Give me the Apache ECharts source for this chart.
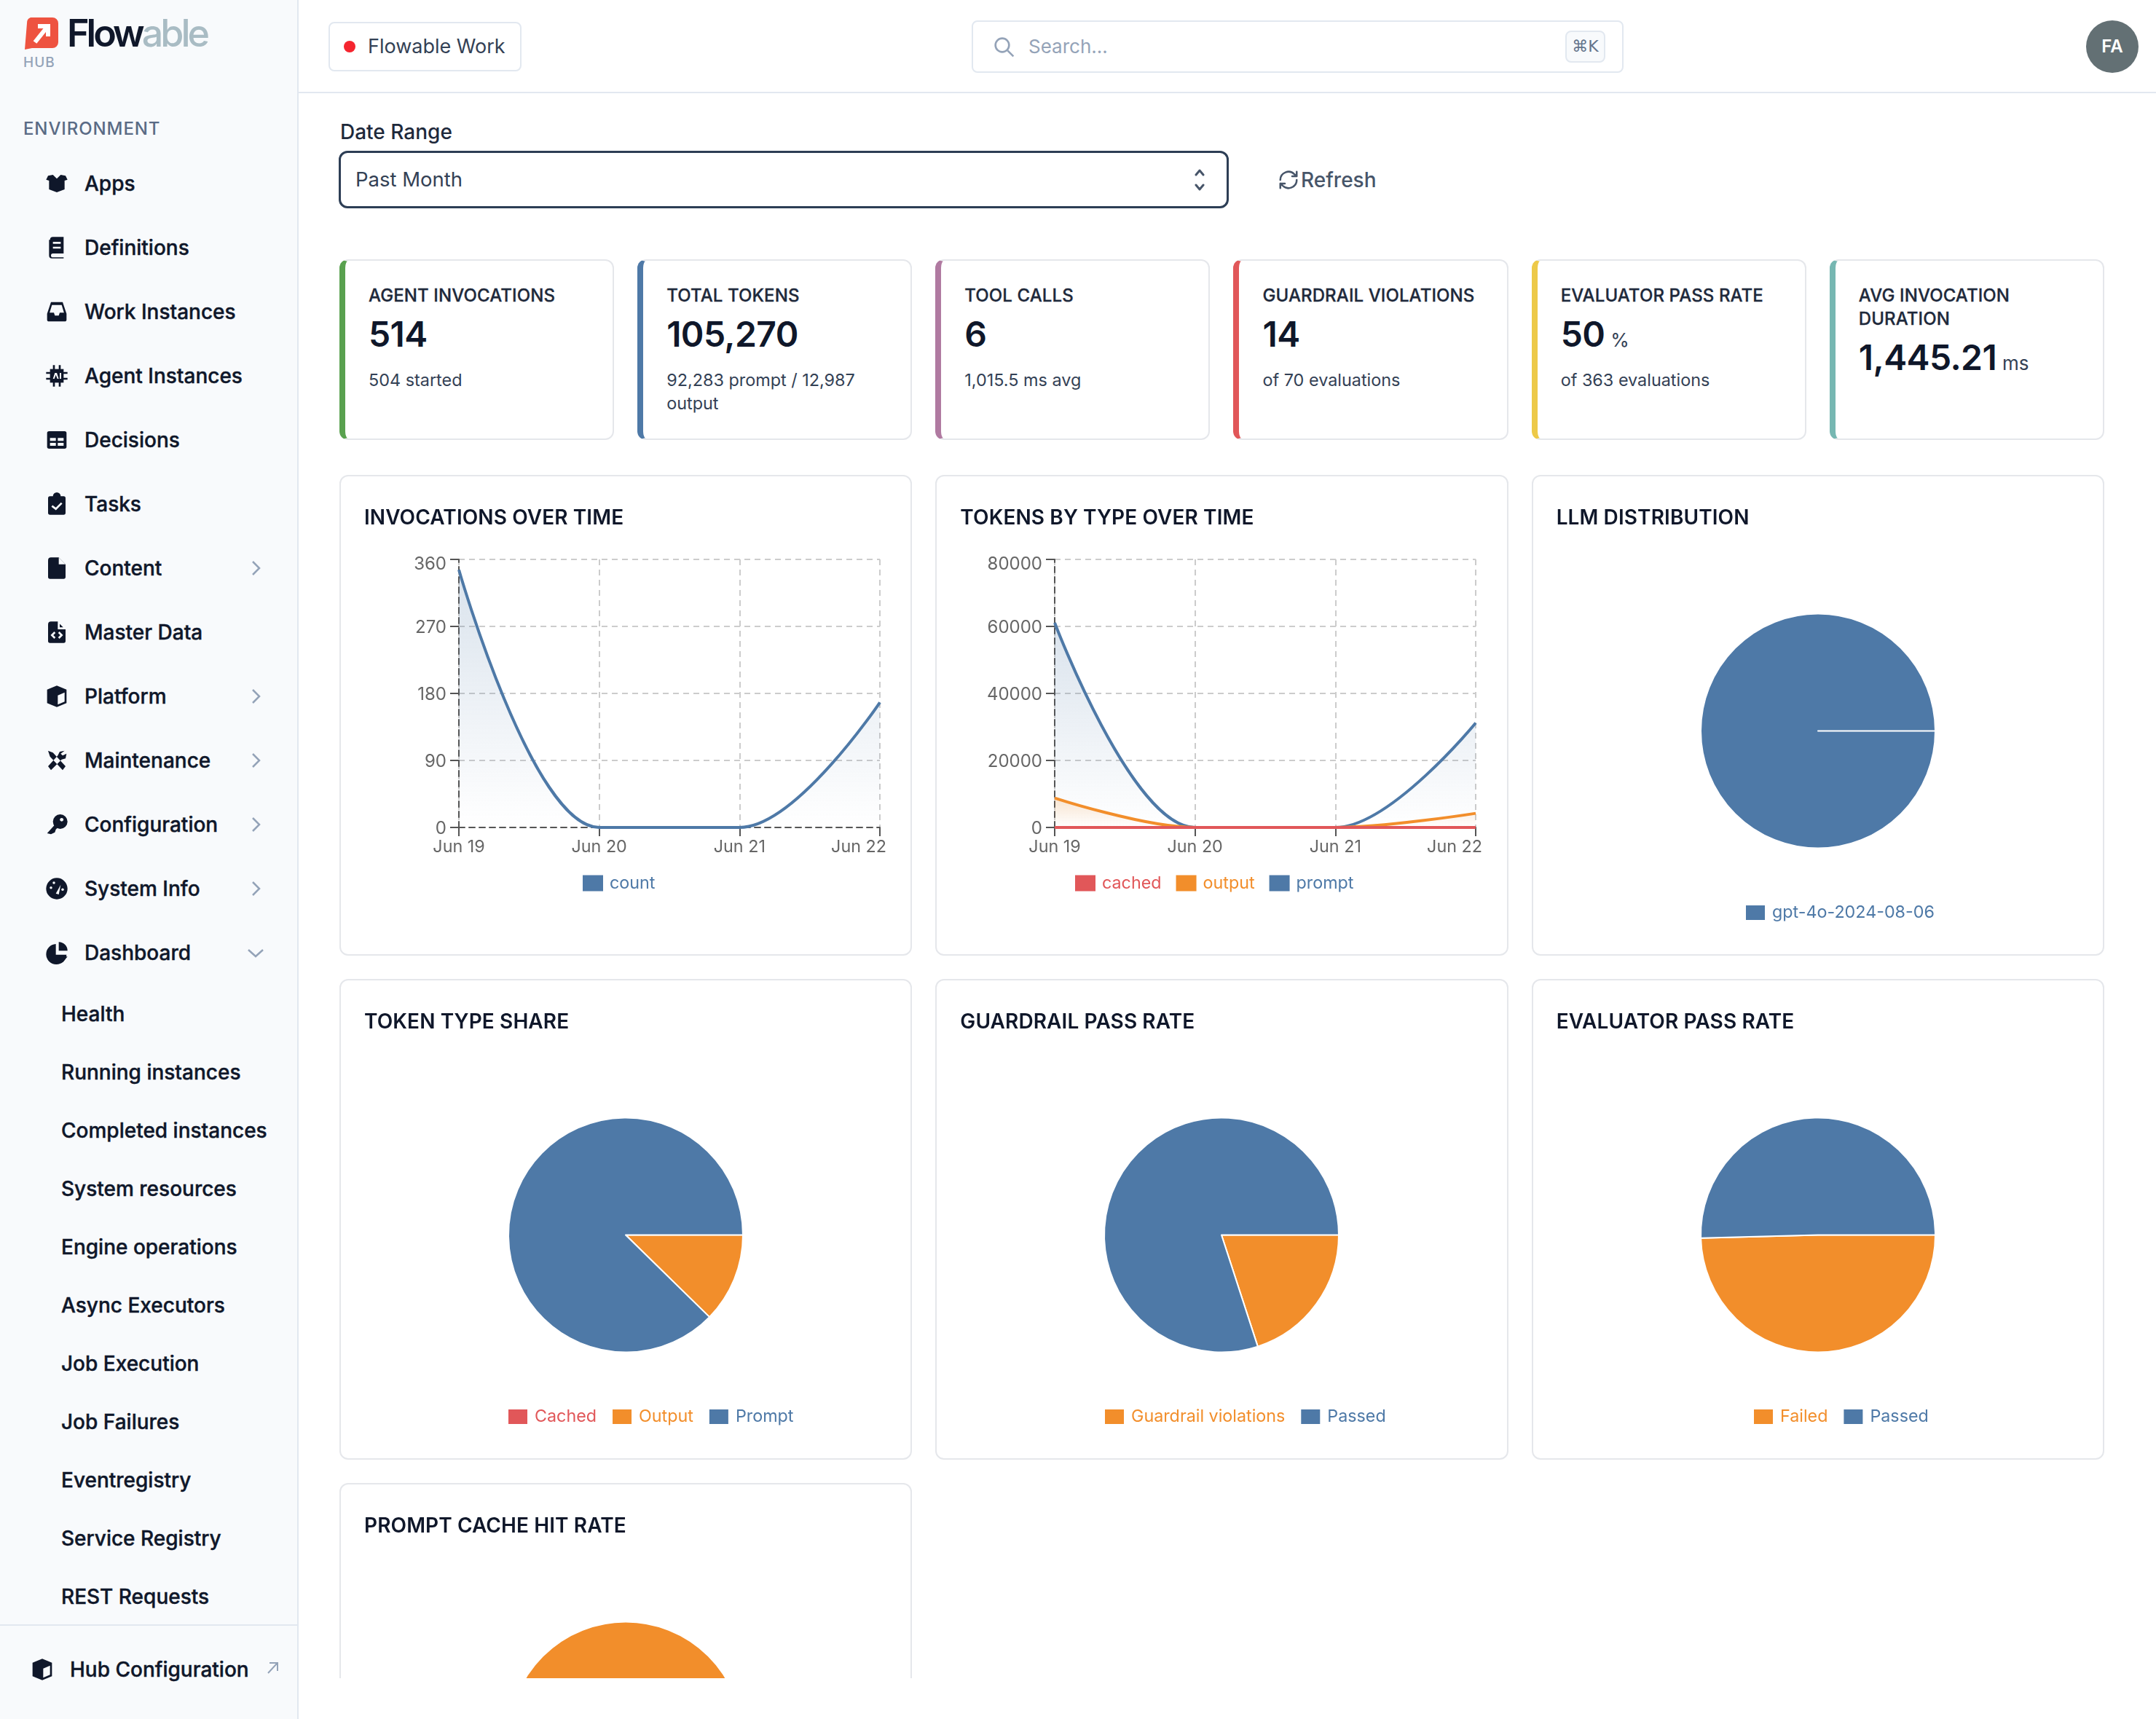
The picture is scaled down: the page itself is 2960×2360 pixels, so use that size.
<!DOCTYPE html>
<html>
<head>
<meta charset="utf-8">
<title>Flowable Hub - Agent Dashboard</title>
<script src="https://cdn.jsdelivr.net/npm/echarts@6/dist/echarts.min.js"></script>
<style>
html, body { margin: 0; padding: 0; width: 2960px; height: 2360px; background: #fff; overflow: hidden; font-family: Inter, "Noto Sans", sans-serif; color: #0f172a; }
* { box-sizing: border-box; }
.abs { position: absolute; white-space: nowrap; }
#sidebar { position: absolute; left: 0; top: 0; width: 410px; height: 2360px; background: #f8fafc; border-right: 2px solid #e2e8f0; }
.nav { position: absolute; left: 116px; font-size: 28px; font-weight: 500; line-height: 36px; color: #0f172a; white-space: nowrap; -webkit-text-stroke: 0.4px #0f172a; }
.nav.sub { left: 84px; }
.nav-icon { position: absolute; left: 62px; width: 32px; height: 32px; }
.chev { position: absolute; left: 339px; width: 24px; height: 24px; }
#topline { position: absolute; left: 410px; top: 126px; width: 2550px; height: 2px; background: #e2e8f0; }
#chip { position: absolute; left: 451px; top: 30px; width: 265px; height: 68px; border: 2px solid #e2e8f0; border-radius: 8px; }
#dot { position: absolute; left: 472px; top: 56px; width: 16px; height: 16px; border-radius: 50%; background: #f5252f; }
#search { position: absolute; left: 1334px; top: 28px; width: 895px; height: 72px; border: 2px solid #e2e8f0; border-radius: 8px; }
#kbd { position: absolute; left: 2149px; top: 42px; width: 55px; height: 44px; background: #f8fafc; border: 2px solid #e2e8f0; border-radius: 8px; color: #64748b; font-size: 22px; line-height: 40px; text-align: center; font-family: "DejaVu Sans", Inter, sans-serif; }
#avatar { position: absolute; left: 2864px; top: 28px; width: 72px; height: 72px; border-radius: 50%; background: #637074; color: #fff; font-size: 24px; font-weight: 600; line-height: 72px; text-align: center; }
#select { position: absolute; left: 465px; top: 207px; width: 1222px; height: 79px; border: 3px solid #2d3e55; border-radius: 12px; background: #fff; }
#main { position: absolute; left: 410px; top: 0; width: 2550px; height: 2304px; overflow: hidden; }
#stats { position: absolute; left: 56px; top: 356px; width: 2423px; height: 248px; display: grid; grid-template-columns: repeat(6, 1fr); column-gap: 32px; }
.stat { position: relative; background: #fff; border: 2px solid #e5e7eb; border-left: 8px solid #4e79a7; border-radius: 12px; padding: 32px 0 0 32px; }
.stat .lab { font-size: 24px; font-weight: 500; line-height: 32px; color: #1e293b; letter-spacing: 0.1px; -webkit-text-stroke: 0.3px #1e293b; }
.stat .val { font-size: 48px; font-weight: 600; line-height: 52px; margin-top: 11px; color: #0f172a; letter-spacing: -0.6px; }
.stat .val span { font-size: 26px; font-weight: 400; margin-left: 8px; line-height: 0; color: #334155; letter-spacing: 0; }
.stat .sub { font-size: 23.4px; line-height: 32px; margin-top: 21px; color: #334155; width: 320px; }
#charts { position: absolute; left: 56px; top: 652px; width: 2423px; display: grid; grid-template-columns: repeat(3, 1fr); grid-auto-rows: 660px; gap: 32px; }
.card { position: relative; background: #fff; border: 2px solid #e5e7eb; border-radius: 12px; }
.card .title { position: absolute; left: 32px; top: 38px; font-size: 28px; line-height: 36px; font-weight: 600; letter-spacing: 0.1px; color: #0f172a; z-index: 2; white-space: nowrap; }
.card .plot { position: absolute; left: -2px; top: -2px; right: -2px; bottom: -2px; }
</style>
</head>
<body>
<div id="sidebar"></div>
<div id="topline"></div>
<div id="chip"></div>
<div id="dot"></div>
<div class="abs" style="left:505px;top:46px;font-size:27px;line-height:36px;color:#334155">Flowable Work</div>
<div id="search"></div>
<svg class="abs" style="left:1362px;top:48px" width="32" height="32" viewBox="0 0 24 24" fill="none" stroke="#94a3b8" stroke-width="2"><circle cx="10.5" cy="10.5" r="7"/><path d="M16 16l6 6"/></svg>
<div class="abs" style="left:1412px;top:46px;font-size:26px;line-height:36px;color:#94a3b8">Search…</div>
<div id="kbd">⌘K</div>
<div id="avatar">FA</div>
<div class="abs" style="left:467px;top:163px;font-size:28px;line-height:36px;font-weight:500;color:#1e293b">Date Range</div>
<div id="select"></div>
<div class="abs" style="left:488px;top:228px;font-size:27.5px;line-height:36px;color:#334155">Past Month</div>
<svg class="abs" style="left:1635px;top:230px" width="24" height="34" viewBox="0 0 24 34" fill="none" stroke="#475569" stroke-width="3" stroke-linecap="round" stroke-linejoin="round"><path d="M7 10l5-6 5 6M7 24l5 6 5-6"/></svg>
<svg class="abs" style="left:1754px;top:232px" width="30" height="30" viewBox="0 0 24 24" fill="none" stroke="#475569" stroke-width="2" stroke-linecap="round" stroke-linejoin="round"><path d="M3 12a9 9 0 0 1 15.5-6.2L21 8M21 3v5h-5M21 12a9 9 0 0 1-15.5 6.2L3 16M3 21v-5h5"/></svg>
<div class="abs" style="left:1786px;top:229px;font-size:28px;line-height:36px;font-weight:500;color:#475569">Refresh</div>
<div id="main">
  <div id="stats"></div>
  <div id="charts"></div>
</div>

<script>
// chart data
var days = ['Jun 19', 'Jun 20', 'Jun 21', 'Jun 22'];
var invocationCounts = [346, 0, 0, 168];
var tokensCached = [0, 0, 0, 0];
var tokensOutput = [8780, 0, 0, 4207];
var tokensPrompt = [61100, 0, 0, 31183];

var llmNames = ['gpt-4o-2024-08-06'];
var llmValues = [514];
var tokenShareNames = ['Cached', 'Output', 'Prompt'];
var tokenShareValues = [0, 12987, 92283];
var guardrailNames = ['Guardrail violations', 'Passed'];
var guardrailValues = [14, 56];
var evaluatorNames = ['Failed', 'Passed'];
var evaluatorValues = [180, 183];
var cacheNames = ['Hit', 'Miss'];
var cacheValues = [0, 92283];

// page text
var navItems = ['Apps', 'Definitions', 'Work Instances', 'Agent Instances', 'Decisions', 'Tasks', 'Content', 'Master Data', 'Platform', 'Maintenance', 'Configuration', 'System Info', 'Dashboard'];
var navWithChevron = ['Content', 'Platform', 'Maintenance', 'Configuration', 'System Info'];
var subItems = ['Health', 'Running instances', 'Completed instances', 'System resources', 'Engine operations', 'Async Executors', 'Job Execution', 'Job Failures', 'Eventregistry', 'Service Registry', 'REST Requests'];
var statLabels = ['AGENT INVOCATIONS', 'TOTAL TOKENS', 'TOOL CALLS', 'GUARDRAIL VIOLATIONS', 'EVALUATOR PASS RATE', 'AVG INVOCATION DURATION'];
var statValues = ['514', '105,270', '6', '14', '50', '1,445.21'];
var statUnits = ['', '', '', '', '%', 'ms'];
var statNotes = ['504 started', '92,283 prompt / 12,987 output', '1,015.5 ms avg', 'of 70 evaluations', 'of 363 evaluations', ''];
var statColors = ['#59a14f', '#4e79a7', '#b07aa1', '#e15759', '#edc948', '#76b7b2'];
var cardTitles = ['INVOCATIONS OVER TIME', 'TOKENS BY TYPE OVER TIME', 'LLM DISTRIBUTION', 'TOKEN TYPE SHARE', 'GUARDRAIL PASS RATE', 'EVALUATOR PASS RATE', 'PROMPT CACHE HIT RATE'];

var BLUE = '#4e79a7', ORANGE = '#f28e2b', RED = '#e15759';
var LABEL_FONT = 'Inter, "Liberation Sans", sans-serif';

var navIcons = {
    'Apps': '<path d="M3 4l5-1 4 4 4-4 5 1 2 4-3 1v9l-8 3-8-3V9L1 8z"/>',
    'Definitions': '<path d="M5 4a3 3 0 0 1 3-3h11v17H8a2 2 0 0 0 0 4h11v1H7a3 3 0 0 1-3-3V4z"/><path d="M8 6h8v2H8zM8 11h8v2H8z" fill="#f8fafc"/>',
    'Work Instances': '<path d="M6 2h12l4 12v6a2 2 0 0 1-2 2H4a2 2 0 0 1-2-2v-6z"/><path d="M7 5h10l2.4 8H15l-1 3h-4l-1-3H4.600z" fill="#f8fafc"/>',
    'Agent Instances': '<path d="M5 5h14v14H5z"/><path d="M8 1h2v22H8zM14 1h2v22h-2zM1 8h22v2H1zM1 14h22v2H1z"/><path d="M8 15l2-6h2l2 6h-1.500l-1.500-4-1.500 4zM15 9h1.500v6H15z" fill="#f8fafc"/>',
    'Decisions': '<path d="M4 3h16a2 2 0 0 1 2 2v14a2 2 0 0 1-2 2H4a2 2 0 0 1-2-2V5a2 2 0 0 1 2-2z"/><path d="M5 10h6v3H5zM13 10h6v3h-6zM5 15h6v3H5zM13 15h6v3h-6z" fill="#f8fafc"/>',
    'Tasks': '<path d="M5 4h3a4 4 0 0 1 8 0h3a2 2 0 0 1 2 2v15a2 2 0 0 1-2 2H5a2 2 0 0 1-2-2V6a2 2 0 0 1 2-2z"/><path d="M7 14l4 3 6-6" fill="none" stroke="#f8fafc" stroke-width="2"/>',
    'Content': '<path d="M6 1h8l7 7v13a2 2 0 0 1-2 2H5a2 2 0 0 1-2-2V4a3 3 0 0 1 3-3z"/><path d="M14 1l7 7h-7z" fill="#f8fafc"/>',
    'Master Data': '<path d="M6 1h8l7 7v13a2 2 0 0 1-2 2H5a2 2 0 0 1-2-2V4a3 3 0 0 1 3-3z"/><path d="M14 1l7 7h-7zM10 12l-3 3 3 3M14 12l3 3-3 3" fill="none" stroke="#f8fafc" stroke-width="2"/>',
    'Platform': '<path d="M12 1l10 4v14l-10 4-10-4V5z"/><path d="M13 11l7-3v9.500l-7 3z" fill="#f8fafc"/>',
    'Maintenance': '<path d="M3 2l5 2 13 14-3 4L5 8zM20 2l-5 1-2 4-10 11 3 4 11-11 4-1 1-5-4 2-2-2z"/>',
    'Configuration': '<circle cx="15.500" cy="9" r="7.500"/><path d="M2 21l9-10 3 3-3 3-1 3-4 2z"/><circle cx="17" cy="7" r="1.800" fill="#f8fafc"/>',
    'System Info': '<circle cx="12" cy="12" r="11"/><path d="M11 17l5-9-2 10z" fill="#f8fafc"/><circle cx="6" cy="11" r="1.300" fill="#f8fafc"/><circle cx="9" cy="6" r="1.300" fill="#f8fafc"/><circle cx="18" cy="13" r="1.300" fill="#f8fafc"/>',
    'Dashboard': '<path d="M11 3v11h11A10.500 10.500 0 1 1 11 3z"/><path d="M14 1a9 9 0 0 1 9 9h-9zM14 16h9l-5 6z"/>',
    'Hub Configuration': '<path d="M12 1l10 4v14l-10 4-10-4V5z"/><path d="M13 11l7-3v9.500l-7 3z" fill="#f8fafc"/>'
};

function DrawSidebar() {
    var html = '';
    // logo
    html += '<svg class="abs" style="left:34px;top:24px" width="46" height="44" viewBox="0 0 46 44"><path d="M8 0h30a8 8 0 0 1 8 8v26a8 8 0 0 1-8 8H10L0 44 3 8a8 8 0 0 1 5-8z" fill="#ee5340"/><path d="M14 34L30 14M18 12h14v14" fill="none" stroke="#fff" stroke-width="6"/></svg>';
    html += '<div class="abs" style="left:92px;top:16px;font-size:52px;line-height:60px;font-weight:600;letter-spacing:-4px;color:#0f172a">Flow<span style="color:#a9bcc4;font-weight:500">able</span></div>';
    html += '<div class="abs" style="left:32px;top:73px;font-size:19px;line-height:26px;font-weight:500;letter-spacing:1px;color:#94a3b8">HUB</div>';
    html += '<div class="abs" style="left:32px;top:161px;font-size:24px;line-height:32px;font-weight:500;letter-spacing:0.9px;color:#5a6b85">ENVIRONMENT</div>';
    for (var i = 0; i < navItems.length; i++) {
        var y = 252 + 88 * i;
        html += '<svg class="nav-icon" style="top:' + (y - 16) + 'px" viewBox="0 0 24 24" fill="#0f172a">' + navIcons[navItems[i]] + '</svg>';
        html += '<div class="nav" style="top:' + (y - 18) + 'px">' + navItems[i] + '</div>';
        if (navWithChevron.indexOf(navItems[i]) >= 0) {
            html += '<svg class="chev" style="top:' + (y - 12) + 'px" viewBox="0 0 24 24" fill="none" stroke="#94a3b8" stroke-width="2.500"><path d="M8 3l9 9-9 9"/></svg>';
        }
        if (navItems[i] == 'Dashboard') {
            html += '<svg class="chev" style="top:' + (y - 12) + 'px" viewBox="0 0 24 24" fill="none" stroke="#94a3b8" stroke-width="2.500"><path d="M2 8l10 9 10-9"/></svg>';
        }
    }
    for (var j = 0; j < subItems.length; j++) {
        html += '<div class="nav sub" style="top:' + (1391 + 80 * j - 17) + 'px">' + subItems[j] + '</div>';
    }
    html += '<div class="abs" style="left:0;top:2230px;width:408px;height:2px;background:#e2e8f0"></div>';
    html += '<svg class="nav-icon" style="left:42px;top:2276px" viewBox="0 0 24 24" fill="#0f172a">' + navIcons['Hub Configuration'] + '</svg>';
    html += '<div class="nav" style="left:96px;top:2274px">Hub Configuration</div>';
    html += '<svg class="abs" style="left:364px;top:2280px" width="20" height="20" viewBox="0 0 20 20" fill="none" stroke="#94a3b8" stroke-width="2"><path d="M4 17L16 4M6 3h11v11"/></svg>';
    document.getElementById('sidebar').innerHTML = html;
}

function DrawStats() {
    var html = '';
    for (var i = 0; i < statLabels.length; i++) {
        html += '<div class="stat" style="border-left-color:' + statColors[i] + '">';
        html += '<div class="lab">' + statLabels[i] + '</div>';
        html += '<div class="val">' + statValues[i] + (statUnits[i] ? '<span>' + statUnits[i] + '</span>' : '') + '</div>';
        if (statNotes[i]) {
            html += '<div class="sub">' + statNotes[i] + '</div>';
        }
        html += '</div>';
    }
    document.getElementById('stats').innerHTML = html;
}

function DrawCards() {
    var html = '';
    for (var i = 0; i < cardTitles.length; i++) {
        html += '<div class="card"><div class="title">' + cardTitles[i] + '</div><div class="plot" id="chart' + i + '"></div></div>';
    }
    document.getElementById('charts').innerHTML = html;
}

function Fade(color, alpha) {
    return new echarts.graphic.LinearGradient(0, 0, 0, 1, [
        { offset: 0, color: echarts.color.modifyAlpha(color, alpha) },
        { offset: 1, color: echarts.color.modifyAlpha(color, 0) }
    ]);
}

function LineSeries(name, values, color) {
    return {
        name: name,
        type: 'line',
        data: values,
        smooth: 0.35,
        symbol: 'none',
        lineStyle: { color: color, width: 4 },
        itemStyle: { color: color },
        areaStyle: { color: Fade(color, 0.3) }
    };
}

function LegendData(names, colors) {
    return names.map(function (name, i) {
        return { name: name, itemStyle: { color: colors[i] }, textStyle: { color: colors[i] } };
    });
}

function LegendOption(names, colors, left, top) {
    return {
        left: left,
        top: top,
        padding: 0,
        orient: 'horizontal',
        icon: 'rect',
        itemWidth: 28,
        itemHeight: 22,
        itemGap: 20,
        selectedMode: false,
        data: LegendData(names, colors),
        textStyle: { fontFamily: LABEL_FONT, fontSize: 23.3, padding: [0, 0, 0, 4] }
    };
}

function DrawLine(id, series, legendNames, legendColors, legendLeft, yMax, yInterval) {
    var myChart = echarts.init(document.getElementById(id), null, { devicePixelRatio: 1 });
    var lineStyle = { color: '#555', width: 2, type: [8, 6] };
    myChart.setOption({
        animation: false,
        legend: LegendOption(legendNames, legendColors, legendLeft, 549),
        grid: { left: 164, top: 116, width: 578, height: 368, containLabel: false },
        xAxis: {
            type: 'category',
            data: days,
            boundaryGap: false,
            axisLine: { lineStyle: lineStyle },
            axisTick: { show: true, length: 12, alignWithLabel: true, lineStyle: { color: '#555', width: 2 } },
            axisLabel: {
                interval: 0,
                margin: 15,
                color: '#666',
                fontFamily: LABEL_FONT,
                fontSize: 23.3,
                hideOverlap: false,
                formatter: function (value, index) {
                    return index == days.length - 1 ? '{last|' + value + '}' : value;
                },
                rich: { last: { padding: [0, 58, 0, 0], color: '#666', fontFamily: LABEL_FONT, fontSize: 23.3 } }
            },
            splitLine: { show: true, lineStyle: { color: '#ccc', width: 2, type: [8, 6] } }
        },
        yAxis: {
            type: 'value',
            min: 0,
            max: yMax,
            interval: yInterval,
            axisLine: { show: true, lineStyle: lineStyle },
            axisTick: { show: true, length: 12, lineStyle: { color: '#555', width: 2 } },
            axisLabel: {
                margin: 17,
                color: '#666',
                fontFamily: LABEL_FONT,
                fontSize: 24,
                formatter: function (value) {
                    return (value == yMax ? '{top|' : '{reg|') + value + '}';
                },
                rich: {
                    top: { padding: [14, 0, 0, 0], color: '#666', fontFamily: LABEL_FONT, fontSize: 24 },
                    reg: { padding: [3, 0, 0, 0], color: '#666', fontFamily: LABEL_FONT, fontSize: 24 }
                }
            },
            splitLine: { show: true, lineStyle: { color: '#ccc', width: 2, type: [8, 6] } }
        },
        series: series
    });
}

function DrawPie(id, names, values, colors, legendLeft, showLegend) {
    var myChart = echarts.init(document.getElementById(id), null, { devicePixelRatio: 1 });
    myChart.setOption({
        animation: false,
        legend: showLegend ? LegendOption(names, colors, legendLeft, 589) : { show: false },
        series: [{
            type: 'pie',
            center: [393, 351.5],
            radius: [0, 161],
            startAngle: 0,
            endAngle: -359.9,
            clockwise: true,
            label: { show: false },
            labelLine: { show: false },
            itemStyle: { borderColor: '#fff', borderWidth: 2 },
            data: names.map(function (name, i) {
                return { name: name, value: values[i], itemStyle: { color: colors[i] } };
            })
        }]
    });
}

DrawSidebar();
DrawStats();
DrawCards();

DrawLine('chart0', [LineSeries('count', invocationCounts, BLUE)], ['count'], [BLUE], 334, 360, 90);
DrawLine('chart1', [
    LineSeries('prompt', tokensPrompt, BLUE),
    LineSeries('output', tokensOutput, ORANGE),
    LineSeries('cached', tokensCached, RED)
], ['cached', 'output', 'prompt'], [RED, ORANGE, BLUE], 192, 80000, 20000);
DrawPie('chart2', llmNames, llmValues, [BLUE], 292, true);
DrawPie('chart3', tokenShareNames, tokenShareValues, [RED, ORANGE, BLUE], 230, true);
DrawPie('chart4', guardrailNames, guardrailValues, [ORANGE, BLUE], 231, true);
DrawPie('chart5', evaluatorNames, evaluatorValues, [ORANGE, BLUE], 303, true);
DrawPie('chart6', cacheNames, cacheValues, [BLUE, ORANGE], 0, false);
</script>
</body>
</html>
